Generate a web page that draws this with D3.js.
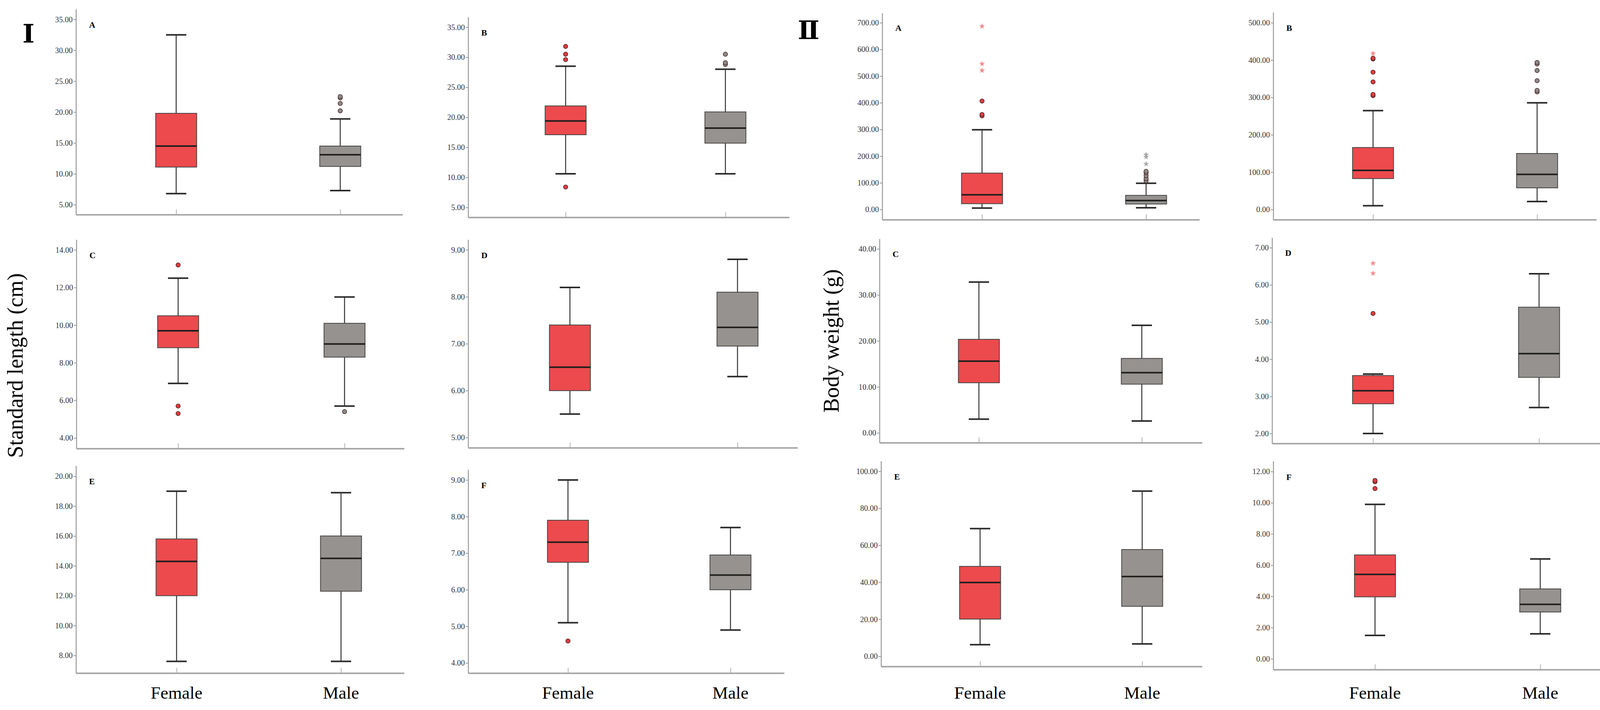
<!DOCTYPE html>
<html>
<head>
<meta charset="utf-8">
<script src="https://cdn.jsdelivr.net/npm/d3@7"></script>
<style>
  body { margin: 0; background: #fff; }
  svg { display: block; }
</style>
</head>
<body>
<svg></svg>
<script>
// categories and panel letters
var categories = ["Female", "Male"];
var panelLetters = ["A", "B", "C", "D", "E", "F"];

// Standard length (cm): [lower whisker, Q1, median, Q3, upper whisker] per panel
var lengthFemale = [
  [6.8, 11.1, 14.5, 19.8, 32.5],
  [10.6, 17.1, 19.4, 21.9, 28.5],
  [6.9, 8.8, 9.7, 10.5, 12.5],
  [5.5, 6.0, 6.5, 7.4, 8.2],
  [7.6, 12.0, 14.3, 15.8, 19.0],
  [5.1, 6.75, 7.3, 7.9, 9.0]
];
var lengthMale = [
  [7.3, 11.2, 13.1, 14.5, 18.9],
  [10.6, 15.7, 18.2, 20.9, 28.0],
  [5.7, 8.3, 9.0, 10.1, 11.5],
  [6.3, 6.95, 7.35, 8.1, 8.8],
  [7.6, 12.3, 14.5, 16.0, 18.9],
  [4.9, 6.0, 6.4, 6.95, 7.7]
];
var lengthFemaleOut = [[], [8.4, 29.6, 30.5, 31.8], [5.3, 5.7, 13.2], [], [], [4.6]];
var lengthMaleOut = [[20.2, 21.4, 22.3, 22.5], [28.8, 29.1, 30.5], [5.4], [], [], []];
var lengthFemaleExtreme = [[], [], [], [], [], []];
var lengthMaleExtreme = [[], [], [], [], [], []];

// Body weight (g)
var weightFemale = [
  [5.6, 21.8, 55.3, 136.6, 299],
  [10.3, 82.8, 104.7, 166, 264.8],
  [3.0, 10.9, 15.6, 20.35, 32.8],
  [2.0, 2.8, 3.15, 3.56, 3.6],
  [6.3, 20.1, 39.9, 48.6, 69.0],
  [1.5, 3.97, 5.41, 6.66, 9.9]
];
var weightMale = [
  [6.6, 20.6, 33.5, 53.1, 98.5],
  [21.5, 58, 94, 150, 285.6],
  [2.6, 10.6, 13.1, 16.2, 23.4],
  [2.7, 3.51, 4.15, 5.4, 6.3],
  [6.7, 27.0, 43.1, 57.7, 89.3],
  [1.6, 3.0, 3.49, 4.48, 6.4]
];
var weightFemaleOut = [[351, 356, 406.5], [304.8, 308, 341.6, 367.6, 403, 405], [], [5.23], [], [10.91, 11.35, 11.43]];
var weightMaleOut = [[107.5, 116, 127, 138, 143], [314.8, 318.8, 344.8, 372, 389.6, 393.6], [], [], [], []];
var weightFemaleExtreme = [[521, 546, 686.7], [417.6], [], [6.31, 6.58], [], []];
var weightMaleExtreme = [[171, 197, 205.6], [], [], [], [], []];

// tick labels
var lengthTicks = [
  [5, 10, 15, 20, 25, 30, 35],
  [5, 10, 15, 20, 25, 30, 35],
  [4, 6, 8, 10, 12, 14],
  [5, 6, 7, 8, 9],
  [8, 10, 12, 14, 16, 18, 20],
  [4, 5, 6, 7, 8, 9]
];
var weightTicks = [
  [0, 100, 200, 300, 400, 500, 600, 700],
  [0, 100, 200, 300, 400, 500],
  [0, 10, 20, 30, 40],
  [2, 3, 4, 5, 6, 7],
  [0, 20, 40, 60, 80, 100],
  [0, 2, 4, 6, 8, 10, 12]
];

// panel frames in pixels (ax = y axis x, p0/p1 = first/last tick y, f/m = category centres)
var lengthLayout = [
  {ax: 195,  right: 1031, top: 24,   bot: 550,  p0: 524.3,  p1: 49.7,   f: 451,  m: 871},
  {ax: 1199, right: 2021, top: 44,   bot: 557,  p0: 531.2,  p1: 69.6,   f: 1448, m: 1857},
  {ax: 196,  right: 1035, top: 614,  bot: 1149, p0: 1121.5, p1: 640,    f: 456,  m: 882},
  {ax: 1199, right: 2042, top: 614,  bot: 1147, p0: 1120.4, p1: 640,    f: 1459, m: 1888},
  {ax: 195,  right: 1035, top: 1193, bot: 1724, p0: 1678.3, p1: 1219.4, f: 452,  m: 873},
  {ax: 1199, right: 2008, top: 1203, bot: 1724, p0: 1697.5, p1: 1229,   f: 1454, m: 1870}
];
var weightLayout = [
  {ax: 2259, right: 3071, top: 34,   bot: 563,  p0: 536.5,  p1: 58.2,   f: 2514, m: 2934},
  {ax: 3260, right: 4087, top: 32,   bot: 563,  p0: 536.5,  p1: 58.2,   f: 3515, m: 3935},
  {ax: 2252, right: 3078, top: 612,  bot: 1134, p0: 1108.5, p1: 637.4,  f: 2506, m: 2923},
  {ax: 3257, right: 4100, top: 609,  bot: 1136, p0: 1110,   p1: 634.3,  f: 3515, m: 3940},
  {ax: 2256, right: 3078, top: 1181, bot: 1707, p0: 1680.5, p1: 1206.7, f: 2509, m: 2924},
  {ax: 3260, right: 4100, top: 1181, bot: 1715, p0: 1686.9, p1: 1207.5, f: 3520, m: 3943}
];

var svgWidth = 4116, svgHeight = 1818;
var svg = d3.select("svg")
  .attr("width", svgWidth)
  .attr("height", svgHeight)
  .style("font-family", "'Liberation Serif', 'Times New Roman', serif");

var fillColor = {Female: "#ec4a4d", Male: "#96928f"};
var outColor = {Female: "#e23a3e", Male: "#8c8a89"};
var starColor = {Female: "#f28a8a", Male: "#a9a7a6"};
var boxWidth = 105, capWidth = 52;
var fmt = d3.format(".2f");

function drawPanel(i, L, ticks, statsF, statsM, outF, outM, extF, extM, showCat) {
  var g = svg.append("g");

  var y = d3.scaleLinear()
    .domain([ticks[0], ticks[ticks.length - 1]])
    .range([L.p0, L.p1]);
  var x = d3.scalePoint()
    .domain(categories)
    .range([L.f, L.m]);

  // y axis
  var yAxis = g.append("g")
    .attr("transform", "translate(" + L.ax + ",0)")
    .call(d3.axisLeft(y).tickValues(ticks).tickFormat(fmt).tickSize(7).tickSizeOuter(0));
  yAxis.select(".domain").remove();
  yAxis.selectAll(".tick line").attr("stroke", "#9a9a9a").attr("stroke-width", 2);
  yAxis.selectAll(".tick text")
    .attr("fill", "#333")
    .attr("font-size", 20)
    .attr("font-family", "'Liberation Serif', serif")
    .attr("x", -9);
  g.append("line")
    .attr("x1", L.ax).attr("x2", L.ax)
    .attr("y1", L.top).attr("y2", L.bot)
    .attr("stroke", "#9a9a9a").attr("stroke-width", 2.5);

  // x axis
  g.append("line")
    .attr("x1", L.ax).attr("x2", L.right)
    .attr("y1", L.bot).attr("y2", L.bot)
    .attr("stroke", "#a8a8a8").attr("stroke-width", 4);
  var xAxis = g.append("g")
    .attr("transform", "translate(0," + (L.bot - 2) + ")")
    .call(d3.axisBottom(x).tickSize(-12).tickFormat(""));
  xAxis.select(".domain").remove();
  xAxis.selectAll(".tick line").attr("stroke", "#b0b0b0").attr("stroke-width", 2);

  if (showCat) {
    g.selectAll(".cat")
      .data(categories)
      .enter()
      .append("text")
      .attr("x", function(d) { return x(d); })
      .attr("y", 1789)
      .attr("text-anchor", "middle")
      .attr("font-size", 45)
      .attr("fill", "#000")
      .text(function(d) { return d; });
  }

  // panel letter
  g.append("text")
    .attr("x", L.ax + 33)
    .attr("y", L.p1 + 21)
    .attr("font-size", 22)
    .attr("font-weight", "bold")
    .text(panelLetters[i]);

  var boxes = [
    {cat: "Female", s: statsF, out: outF, ext: extF},
    {cat: "Male", s: statsM, out: outM, ext: extM}
  ];

  var b = g.selectAll(".box")
    .data(boxes)
    .enter()
    .append("g");

  // whiskers
  b.append("line")
    .attr("x1", function(d) { return x(d.cat); })
    .attr("x2", function(d) { return x(d.cat); })
    .attr("y1", function(d) { return y(d.s[0]); })
    .attr("y2", function(d) { return y(d.s[4]); })
    .attr("stroke", "#333").attr("stroke-width", 2.5);
  b.selectAll(".cap")
    .data(function(d) { return [d.s[0], d.s[4]].map(function(v) { return {cat: d.cat, v: v}; }); })
    .enter()
    .append("line")
    .attr("x1", function(d) { return x(d.cat) - capWidth / 2; })
    .attr("x2", function(d) { return x(d.cat) + capWidth / 2; })
    .attr("y1", function(d) { return y(d.v); })
    .attr("y2", function(d) { return y(d.v); })
    .attr("stroke", "#2a2a2a").attr("stroke-width", 4);

  // box
  b.append("rect")
    .attr("x", function(d) { return x(d.cat) - boxWidth / 2; })
    .attr("width", boxWidth)
    .attr("y", function(d) { return y(d.s[3]); })
    .attr("height", function(d) { return y(d.s[1]) - y(d.s[3]); })
    .attr("fill", function(d) { return fillColor[d.cat]; })
    .attr("stroke", "#444").attr("stroke-width", 2);

  // median
  b.append("line")
    .attr("x1", function(d) { return x(d.cat) - boxWidth / 2; })
    .attr("x2", function(d) { return x(d.cat) + boxWidth / 2; })
    .attr("y1", function(d) { return y(d.s[2]); })
    .attr("y2", function(d) { return y(d.s[2]); })
    .attr("stroke", "#1e1e1e").attr("stroke-width", 4);

  // outliers
  b.selectAll(".out")
    .data(function(d) { return d.out.map(function(v) { return {cat: d.cat, v: v}; }); })
    .enter()
    .append("circle")
    .attr("cx", function(d) { return x(d.cat); })
    .attr("cy", function(d) { return y(d.v); })
    .attr("r", 5.5)
    .attr("fill", function(d) { return outColor[d.cat]; })
    .attr("stroke", "#4a2a2a").attr("stroke-width", 1.5);

  // extremes
  var star = d3.symbol().type(d3.symbolStar).size(70);
  b.selectAll(".ext")
    .data(function(d) { return d.ext.map(function(v) { return {cat: d.cat, v: v}; }); })
    .enter()
    .append("path")
    .attr("d", star)
    .attr("transform", function(d) { return "translate(" + x(d.cat) + "," + y(d.v) + ")"; })
    .attr("fill", function(d) { return starColor[d.cat]; });
}

for (var i = 0; i < 6; i++) {
  drawPanel(i, lengthLayout[i], lengthTicks[i], lengthFemale[i], lengthMale[i],
    lengthFemaleOut[i], lengthMaleOut[i], lengthFemaleExtreme[i], lengthMaleExtreme[i], i >= 4);
  drawPanel(i, weightLayout[i], weightTicks[i], weightFemale[i], weightMale[i],
    weightFemaleOut[i], weightMaleOut[i], weightFemaleExtreme[i], weightMaleExtreme[i], i >= 4);
}

// part numerals
svg.append("text")
  .attr("x", 73).attr("y", 109)
  .attr("text-anchor", "middle")
  .attr("font-size", 66)
  .attr("font-weight", "bold")
  .attr("font-family", "'DejaVu Serif', serif")
  .text("Ⅰ");
svg.append("text")
  .attr("x", 2070).attr("y", 100)
  .attr("text-anchor", "middle")
  .attr("font-size", 66)
  .attr("font-weight", "bold")
  .attr("font-family", "'DejaVu Serif', serif")
  .text("Ⅱ");

// y axis titles
svg.append("text")
  .attr("transform", "translate(58,936) rotate(-90)")
  .attr("text-anchor", "middle")
  .attr("font-size", 56)
  .text("Standard length (cm)");
svg.append("text")
  .attr("transform", "translate(2147,873) rotate(-90)")
  .attr("text-anchor", "middle")
  .attr("font-size", 56)
  .text("Body weight (g)");
</script>
</body>
</html>
